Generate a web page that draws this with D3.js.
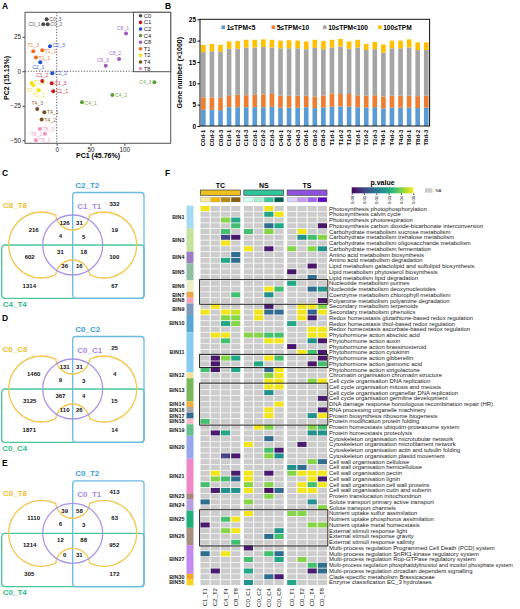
<!DOCTYPE html>
<html><head><meta charset="utf-8">
<script src="https://cdn.jsdelivr.net/npm/d3@7"></script>
<style>body{margin:0;background:#fff}svg{display:block}</style>
</head><body>
<svg id="fig" width="520" height="609"></svg>
<script>
// ================= DATA =================
// Panel A: PCA
const pcaSamples = ["C0_1","C0_2","C0_3","C1_1","C1_2","C1_3","C2_1","C2_2","C2_3","C4_1","C4_2","C4_3","C8_1","C8_2","C8_3","T1_1","T1_2","T1_3","T2_1","T2_2","T2_3","T4_1","T4_2","T4_3","T8_1","T8_2","T8_3"];
const pcaPC1 = [-19.8,-13.3,-14.8,-5,-21.3,-7.4,-24.2,-6.5,-9.9,37.4,82.3,144.4,102.5,92.2,72.5,-30.6,-21.3,-34.6,-26.2,-37,-34.6,-18.3,-22.2,-28.7,-30.6,-17.3,-24.7];
const pcaPC2 = [34,34,37.7,-14.5,-7,-8.7,6.5,-1.4,18.1,-22.5,-17.2,-8,27.3,8.9,3.9,9.9,15.2,14.5,-13.8,-8.5,-10.1,-29.7,-35,-27.3,-50,-45.2,-41.8];
const pcaGroups = ["C0","C1","C2","C4","C8","T1","T2","T4","T8"];
const pcaXTicks = [0,50,100];
const pcaYTicks = [-50,-25,0,25];

// Panel B: stacked bars (x1000 genes)
const barSamples = ["C0d-1","C0d-2","C0d-3","C1d-1","C1d-2","C1d-3","C2d-1","C2d-2","C2d-3","C4d-1","C4d-2","C4d-3","C8d-1","C8d-2","C8d-3","T1d-1","T1d-2","T1d-3","T2d-1","T2d-2","T2d-3","T4d-1","T4d-2","T4d-3","T8d-1","T8d-2","T8d-3"];
const tpm1to5   = [3.8,3.8,3.7,4.4,4.4,4.4,4.4,4.4,4.5,4.3,4.3,4.3,4.4,4.2,4.3,4.5,4.6,4.5,4.4,4.3,4.4,4.1,4.3,4.3,4.3,4.2,4.3];
const tpm5to10  = [2.9,2.9,2.9,2.8,2.9,2.8,2.9,3.0,3.0,2.8,2.8,2.8,2.7,2.7,2.8,3.1,2.9,3.0,2.8,2.8,2.8,2.8,2.8,2.8,2.8,2.8,2.8];
const tpm10to100= [10.6,10.8,10.8,10.9,10.8,11.2,11.1,11.1,10.9,11.1,11.1,11.1,10.9,11.4,10.9,10.8,11.1,10.6,11.2,10.7,10.8,10.3,11.1,11.1,11.3,10.8,10.7];
const tpm100up  = [1.7,1.7,1.6,1.7,1.8,1.8,1.8,1.8,1.8,1.8,1.9,1.8,1.8,1.9,1.9,1.8,1.8,1.7,1.8,1.4,1.7,1.9,1.8,1.8,1.9,1.8,1.8];
const barLegend = ["1≤TPM<5","5≤TPM<10","10≤TPM<100","100≤TPM"];
const barYTicks = [0,5,10,15,20,25];

// Panels C-E: Venn counts, region order:
// B, Y, P, PB, YB, YP, YPB, YG, YPG, YPGB, YGB, PG, PGB, G, GB
const vennRegions = ["B","Y","P","PB","YB","YP","YPB","YG","YPG","YPGB","YGB","PG","PGB","G","GB"];
const vennCSets = ["C8_T8","C1_T1","C2_T2","C4_T4"];
const vennCCounts = [332,216,126,31,19,4,5,602,31,18,100,36,16,1314,67];
const vennDSets = ["C0_C8","C0_C1","C0_C2","C0_C4"];
const vennDCounts = [25,1460,131,31,4,9,3,3125,367,4,15,110,26,1871,14];
const vennESets = ["C0_T8","C0_T1","C0_T2","C0_T4"];
const vennECounts = [413,1110,39,58,63,6,3,1214,12,88,952,0,31,305,172];

// Panel F: heatmap of p-values (null = NA)
const heatCols = ["C1_T1","C2_T2","C4_T4","C8_T8","C0_C1","C0_C2","C0_C4","C0_C8","C0_T1","C0_T2","C0_T4","C0_T8"];
const heatGroups = ["TC","NS","TS"];
const heatRows = [
"Photosynthesis photophosphorylation","Photosynthesis calvin cycle","Photosynthesis photorespiration",
"Photosynthesis carbon dioxide-bicarbonate interconversion","Carbohydrate metabolism sucrose metabolism",
"Carbohydrate metabolism trehalose metabolism","Carbohydrate metabolism oligosaccharide metabolism",
"Carbohydrate metabolism fermentation","Amino acid metabolism biosynthesis","Amino acid metabolism degradation",
"Lipid metabolism galactolipid and sulfolipid biosynthesis","Lipid metabolism phytosterol biosynthesis",
"Lipid metabolism lipid degradation","Nucleotide metabolism purines","Nucleotide metabolism deoxynucleotides",
"Coenzyme metabolism chlorophyll metabolism","Polyamine metabolism polyamine degradation",
"Secondary metabolism terpenoids","Secondary metabolism phenolics",
"Redox homeostasis glutathione-based redox regulation","Redox homeostasis thiol-based redox regulation",
"Redox homeostasis ascorbate-based redox regulation","Phytohormone action abscisic acid",
"Phytohormone action auxin","Phytohormone action brassinosteroid","Phytohormone action cytokinin",
"Phytohormone action gibberellin","Phytohormone action jasmonic acid","Phytohormone action strigolactone",
"Chromatin organisation chromatin structure","Cell cycle organisation DNA replication",
"Cell cycle organisation mitosis and meiosis","Cell cycle organisation organellar DNA replication",
"Cell cycle organisation germline development","DNA damage response homologous recombination repair (HR)",
"RNA processing organelle machinery","Protein biosynthesis ribosome biogenesis",
"Protein modification protein folding","Protein homeostasis ubiquitin-proteasome system",
"Protein homeostasis proteolysis","Cytoskeleton organisation microtubular network",
"Cytoskeleton organisation microfilament network","Cytoskeleton organisation actin and tubulin folding",
"Cytoskeleton organisation plastid movement","Cell wall organisation cellulose",
"Cell wall organisation hemicellulose","Cell wall organisation pectin","Cell wall organisation lignin",
"Cell wall organisation cell wall proteins","Cell wall organisation cutin and suberin",
"Protein translocation mitochondrion","Solute transport primary active transport","Solute transport channels",
"Nutrient uptake sulfur assimilation","Nutrient uptake phosphorus assimilation","Nutrient uptake metal homeostasis",
"External stimuli response light","External stimuli response gravity","External stimuli response salinity",
"Multi-process regulation Programmed Cell Death (PCD) system",
"Multi-process regulation SnRK1-kinase regulatory system",
"Multi-process regulation Rop-GTPase regulatory system",
"Multi-process regulation phosphatidylinositol and inositol phosphate system",
"Multi-process regulation circadian dependent signalling",
"Clade-specific metabolism Brassicaceae","Enzyme classification EC_3 hydrolases"];
const _ = null;
const heatP = [
[0.049,_,_,_,_,_,0.049,_,_,_,_,_],
[_,_,_,_,_,_,0.030,0.049,_,_,_,_],
[_,_,0.041,0.030,_,_,_,_,_,_,_,_],
[_,_,_,0.035,_,_,0.0175,0.030,_,_,_,0.003],
[_,_,0.035,_,0.035,_,0.041,_,_,0.049,_,_],
[_,_,0.010,0.003,_,_,_,_,_,0.025,0.035,0.041],
[_,_,0.049,_,_,_,_,_,_,_,_,_],
[_,_,_,_,0.049,_,0.004,_,0.041,_,0.041,0.025],
[_,_,_,0.0175,_,_,_,_,_,_,_,_],
[_,_,0.030,0.0175,_,_,_,_,_,_,_,_],
[_,_,_,_,_,_,_,_,_,_,0.003,_],
[_,_,_,_,_,_,_,_,0.003,_,_,_],
[_,_,_,_,_,_,_,_,_,_,0.0175,_],
[_,_,_,_,_,_,_,_,0.030,_,_,_],
[_,_,_,_,_,_,0.049,0.035,_,_,0.0175,0.025],
[_,_,_,0.035,_,_,0.025,_,_,_,_,_],
[_,_,_,_,_,_,_,_,_,_,_,0.003],
[_,0.049,_,_,_,_,0.004,_,_,0.049,0.049,0.041],
[0.049,_,0.049,0.046,_,0.049,0.0175,0.0175,_,0.049,0.015,0.049],
[_,_,0.041,0.041,_,0.049,_,_,_,0.049,0.004,_],
[_,_,0.030,0.041,_,_,_,_,0.030,_,_,_],
[_,_,_,_,_,_,_,_,_,_,0.049,0.049],
[_,0.049,0.049,_,0.041,0.041,0.035,0.035,_,_,0.049,0.049],
[_,_,0.035,_,_,_,0.049,0.049,_,_,0.025,0.003],
[_,_,_,_,_,_,_,_,0.003,_,_,_],
[_,_,_,_,_,_,_,_,_,0.049,0.035,0.003],
[_,0.003,0.041,0.030,_,_,0.049,0.035,_,_,_,0.003],
[_,0.003,_,_,_,0.030,_,_,_,_,0.003,0.035],
[0.035,0.003,_,0.030,_,_,0.0175,0.049,_,_,_,_],
[_,_,_,_,_,_,0.041,0.049,_,_,_,_],
[_,_,_,_,_,_,0.049,0.049,_,_,0.041,0.049],
[_,_,_,_,_,_,0.049,0.049,_,_,_,_],
[_,_,_,_,_,_,0.025,_,_,_,_,_],
[_,_,_,_,_,_,_,_,_,_,_,0.004],
[_,_,_,_,_,_,_,0.049,_,_,_,_],
[_,_,_,_,_,_,0.049,_,_,_,_,0.004],
[_,_,_,_,_,_,0.049,_,_,_,0.025,0.049],
[0.035,_,_,_,_,_,_,_,_,_,_,_],
[_,_,_,_,_,0.049,0.041,_,_,_,0.041,0.035],
[_,0.004,0.030,_,_,_,_,_,_,_,0.025,0.025],
[_,_,_,_,_,_,0.0175,_,_,_,_,_],
[_,_,_,_,0.049,_,_,_,_,0.004,_,_],
[_,_,_,_,_,_,0.035,0.004,_,_,_,_],
[_,_,0.010,0.004,_,_,0.041,0.025,_,_,_,_],
[_,_,_,_,_,_,_,_,_,_,0.041,0.0175],
[_,_,_,_,_,_,_,_,0.025,0.0175,_,_],
[_,0.049,_,0.004,0.049,_,0.004,_,0.041,0.049,0.049,0.049],
[_,0.041,0.035,0.0175,0.049,_,_,_,_,_,0.049,0.004],
[0.035,_,_,_,0.041,_,0.041,_,_,0.049,0.035,0.049],
[_,0.004,0.025,0.025,0.049,_,0.002,0.0175,_,0.049,0.049,_],
[_,_,_,_,_,_,0.041,_,_,_,_,_],
[0.0175,_,_,_,0.041,_,_,_,_,_,0.025,_],
[_,_,_,_,_,_,_,_,_,_,_,0.041],
[_,_,_,_,0.049,_,_,_,0.041,0.041,_,_],
[_,_,0.035,0.049,_,_,_,_,_,_,_,_],
[0.004,_,_,_,_,_,_,_,_,_,0.041,0.041],
[_,_,0.041,0.049,_,_,_,0.025,_,_,_,_],
[_,_,_,_,_,_,0.0175,0.035,_,_,_,_],
[_,_,_,0.035,_,_,_,_,_,_,_,_],
[_,_,_,_,0.004,_,_,_,_,_,_,_],
[0.0175,_,0.049,_,_,_,0.035,0.0175,_,_,_,_],
[_,_,_,_,0.035,_,_,0.030,_,0.041,_,_],
[_,_,_,_,_,_,_,_,_,_,0.035,0.0175],
[_,0.004,_,_,0.030,_,_,_,_,_,0.004,0.0175],
[_,_,_,_,_,_,0.0175,0.004,_,_,_,_],
[_,_,_,_,0.025,_,_,_,0.030,_,_,_]];
const binNames = ["BIN1","BIN3","BIN4","BIN5","BIN6","BIN7","BIN8","BIN9","BIN10","BIN11","BIN12","BIN13","BIN14","BIN16","BIN17","BIN18","BIN19","BIN20","BIN21","BIN23","BIN24","BIN25","BIN26","BIN27","BIN30","BIN50"];
const binSizes = [4,4,2,3,2,1,1,2,3,7,1,4,1,1,1,1,2,4,6,1,2,3,3,5,1,1];
const boxedRowRanges = [[13,16],[26,27],[31,37],[53,58]];
const pTicks = [0,0.01,0.02,0.03,0.04,0.05];

// ================= STYLE =================
const FONT = "'Liberation Sans', Arial, Helvetica, sans-serif";
const groupColors = {C0:"#4a4a4a",C1:"#c8191e",C2:"#1f4fcf",C4:"#5f9e35",C8:"#9e5cc0",T1:"#f26a22",T2:"#f3e21a",T4:"#7a4f24",T8:"#f490bd"};
const barColors = ["#5b9bd5","#ed7d31","#a5a5a5","#ffc000"];
const vennCol = {Y:"#f2c650",P:"#a897e6",B:"#6ab9e2",G:"#4cc79a"};
const vennTxt = {Y:"#efbd2f",P:"#a68ae4",B:"#3a9fdc",G:"#2fbf86"};
const binColors = ["#a6d9f2","#c5e29a","#9c7dc6","#8fbf9f","#eaf1c6","#e6a64a","#f3a3b5","#7e9bbd","#5aa6d3","#86ccf2","#f3e39a","#78b85a","#efb03e","#a9a9a9","#2f6c8f","#f7bcc7","#66c08a","#98a8ec","#f088c8","#a8887a","#b8a0e0","#22b07a","#a89080","#c58af0","#f5a623","#f8d21c"];
const groupBarColors = ["#f0c020","#2fc79a","#8f52e0"];
const groupSquareColors = [["#f8e8a0","#f0b800","#b88a10","#87600f"],["#d6fbf3","#a6efd2","#3cc6a0","#006052"],["#d8d0ff","#c898f0","#a064f0","#5f08c8"]];
const NA_COLOR = "#cccccc";

const svg = d3.select("#fig").style("font-family", FONT);

// ================= PANEL LETTERS =================
[["A",2,9],["B",165,9],["C",2,176],["D",2,321],["E",2,466],["F",165,176]].forEach(([t,x,y])=>{
  svg.append("text").attr("x",x).attr("y",y).text(t).attr("font-size",8.5).attr("font-weight","bold");
});

// ================= PANEL A =================
(function(){
  const x = d3.scaleLinear().domain([-46.8,168.5]).range([25,170.7]);
  const y = d3.scaleLinear().domain([-52.2,42.7]).range([143.3,12.3]);
  const g = svg.append("g");
  const ax = g.append("g").attr("transform","translate(0,143.3)").call(d3.axisBottom(x).tickValues(pcaXTicks).tickSize(2.5).tickPadding(1.5));
  const ay = g.append("g").attr("transform","translate(25,0)").call(d3.axisLeft(y).tickValues(pcaYTicks).tickSize(2.5).tickPadding(1.5));
  [ax,ay].forEach(a=>{a.select(".domain").remove(); a.selectAll("text").attr("font-size",6.3).attr("font-family",FONT).attr("fill","#222"); a.selectAll("line").attr("stroke","#444");});
  g.append("line").attr("x1",x(0)).attr("x2",x(0)).attr("y1",12.3).attr("y2",143.3).attr("stroke","#333").attr("stroke-width",0.8).attr("stroke-dasharray","1.2,1.6");
  g.append("line").attr("x1",25).attr("x2",170.7).attr("y1",y(0)).attr("y2",y(0)).attr("stroke","#333").attr("stroke-width",0.8).attr("stroke-dasharray","1.2,1.6");
  g.append("rect").attr("x",25).attr("y",12.3).attr("width",145.7).attr("height",131).attr("fill","none").attr("stroke","#555").attr("stroke-width",1);
  const place = {C0_1:["end",-2.6,2],C0_2:["start",2.6,2],C0_3:["start",2.6,2],C8_1:["middle",-3,-3.6],C8_2:["middle",-4,-4],C8_3:["middle",-3,-4],
    C4_3:["end",-3,2],C4_2:["start",2.6,2.4],C4_1:["start",2.6,2.2],C2_3:["start",2.6,0.8],C2_1:["middle",-2,6.6],C2_2:["start",2.6,2],
    T1_3:["middle",0,-4.2],T1_2:["start",2.4,2.4],T1_1:["start",2.6,2.6],C1_2:["middle",0,-4],C1_3:["start",2.6,2.2],C1_1:["start",2.6,2],
    T2_1:["middle",0,6.6],T2_2:["start",2.4,1.2],T2_3:["middle",-1,6.4],T4_1:["start",2.6,2],T4_2:["start",2.6,2],T4_3:["middle",0,-3.8],
    T8_1:["start",2.6,2],T8_2:["end",-2.6,2],T8_3:["start",2.6,2]};
  pcaSamples.forEach((s,i)=>{
    const grp = s.split("_")[0], px = x(pcaPC1[i]), py = y(pcaPC2[i]);
    g.append("circle").attr("cx",px).attr("cy",py).attr("r",2).attr("fill",groupColors[grp]);
    const p = place[s];
    g.append("text").attr("x",px+p[1]).attr("y",py+p[2]).attr("text-anchor",p[0]).text(s)
      .attr("font-size",5.1).attr("fill",groupColors[grp]).attr("opacity",0.85);
  });
  g.append("rect").attr("x",133.5).attr("y",12.3).attr("width",37.2).attr("height",59.4).attr("fill","#fff").attr("stroke","#555").attr("stroke-width",1);
  pcaGroups.forEach((k,i)=>{
    const ly = 15.8 + i*6.6;
    g.append("circle").attr("cx",140.5).attr("cy",ly).attr("r",1.8).attr("fill",groupColors[k]);
    g.append("text").attr("x",143.8).attr("y",ly+2).text(k).attr("font-size",5.8).attr("fill","#222");
  });
  g.append("text").attr("x",98).attr("y",158).attr("text-anchor","middle").text("PC1 (45.76%)").attr("font-size",7).attr("font-weight","bold");
  g.append("text").attr("transform","translate(9,78) rotate(-90)").attr("text-anchor","middle").text("PC2 (15.13%)").attr("font-size",7).attr("font-weight","bold");
})();

// ================= PANEL B =================
(function(){
  const g = svg.append("g");
  const x = d3.scaleBand().domain(barSamples).range([200,429.6]).paddingInner(0.46).paddingOuter(0.12);
  const y = d3.scaleLinear().domain([0,25]).range([126,19.3]);
  const rows = barSamples.map((s,i)=>({s, k0:tpm1to5[i], k1:tpm5to10[i], k2:tpm10to100[i], k3:tpm100up[i]}));
  const series = d3.stack().keys(["k0","k1","k2","k3"])(rows);
  series.forEach((ser,si)=>{
    g.append("g").selectAll("rect").data(ser).join("rect")
      .attr("x",d=>x(d.data.s)).attr("width",x.bandwidth())
      .attr("y",d=>y(d[1])).attr("height",d=>y(d[0])-y(d[1])).attr("fill",barColors[si]);
  });
  const ay = g.append("g").attr("transform","translate(200,0)").call(d3.axisLeft(y).tickValues(barYTicks).tickSize(2.5).tickPadding(1.5));
  ay.select(".domain").remove();
  ay.selectAll("text").attr("font-size",6.5).attr("font-weight","bold").attr("font-family",FONT);
  const axb = g.append("g").attr("transform","translate(0,126)").call(d3.axisBottom(x).tickSize(0).tickPadding(2));
  axb.select(".domain").remove();
  axb.selectAll("text").attr("font-size",5.9).attr("font-weight","bold").attr("font-family",FONT)
    .attr("transform","rotate(-90)").attr("text-anchor","end").attr("dx","-0.3em").attr("dy","0.35em").attr("y",0).attr("x",-2);
  g.append("rect").attr("x",200).attr("y",19.3).attr("width",229.6).attr("height",106.7).attr("fill","none").attr("stroke","#111").attr("stroke-width",1);
  const lx = [221.5,271.5,323,378];
  barLegend.forEach((t,i)=>{
    g.append("rect").attr("x",lx[i]).attr("y",25.4).attr("width",3.6).attr("height",3.6).attr("fill",barColors[i]);
    g.append("text").attr("x",lx[i]+5.2).attr("y",29.6).text(t).attr("font-size",6.6).attr("font-weight","bold");
  });
  g.append("text").attr("transform","translate(182,72.7) rotate(-90)").attr("text-anchor","middle")
    .text("Gene number (×1000)").attr("font-size",7).attr("font-weight","bold");
})();

// ================= PANELS C-E: VENN =================
function drawVenn(cx, cy, sets, counts){
  const g = svg.append("g").attr("transform",`translate(${cx},${cy})`);
  g.append("rect").attr("x",-71).attr("y",0).attr("width",142.3).attr("height",53.3).attr("rx",3)
    .attr("fill","none").attr("stroke",vennCol.G).attr("stroke-width",1.3);
  g.append("rect").attr("x",0).attr("y",-52.5).attr("width",71.3).attr("height",105.8).attr("rx",3)
    .attr("fill","none").attr("stroke",vennCol.B).attr("stroke-width",1.3);
  const r = 33, d = 31, phi = 65*Math.PI/180;
  const ax = -d + r*Math.cos(phi), ay = -r*Math.sin(phi);
  const dip = 15;
  const hc = -ax, sag = -ay - dip;
  const R = (hc*hc + sag*sag)/(2*sag);
  const path = `M${ax},${ay} A${R},${R} 0 0 0 ${-ax},${ay} A${r},${r} 0 1 1 ${-ax},${-ay} A${R},${R} 0 0 0 ${ax},${-ay} A${r},${r} 0 1 1 ${ax},${ay} Z`;
  g.append("path").attr("d",path).attr("fill","none").attr("stroke",vennCol.Y).attr("stroke-width",1.3);
  g.append("circle").attr("cx",0).attr("cy",0).attr("r",30).attr("fill","none").attr("stroke",vennCol.P).attr("stroke-width",1.3);
  const lbl = [[sets[0],"Y","middle",-57.7,-37],[sets[1],"P","start",4.5,-36],[sets[2],"B","start",2.5,-57],[sets[3],"G","middle",-58,61.5]];
  lbl.forEach(([t,k,anc,x,y])=>{
    g.append("text").attr("x",x).attr("y",y).attr("text-anchor",anc).text(t)
      .attr("font-size",8).attr("font-weight","bold").attr("fill",vennTxt[k]);
  });
  const pos = {B:[41.8,-41],Y:[-39,-15],P:[-8,-22],PB:[6.7,-22],YB:[42,-15.5],YP:[-12.3,-9],YPB:[11,-8.3],
    YG:[-43,12],YPG:[-12.3,7],YPGB:[11,7],YGB:[41.6,11.5],PG:[-8,21.2],PGB:[6.6,21.2],G:[-43.4,40.6],GB:[41.8,40.6]};
  vennRegions.forEach((k,i)=>{
    g.append("text").attr("x",pos[k][0]).attr("y",pos[k][1]+2.1).attr("text-anchor","middle").text(counts[i])
      .attr("font-size",6).attr("font-weight","bold").attr("fill","#111");
  });
}
drawVenn(72.7,245,vennCSets,vennCCounts);
drawVenn(72.7,389,vennDSets,vennDCounts);
drawVenn(72.7,533.3,vennESets,vennECounts);

// ================= PANEL F: HEATMAP =================
(function(){
  const g = svg.append("g");
  const gx = d3.scaleBand().domain(heatGroups).range([200.5,327]).paddingInner(0.08);
  const cx = d3.scaleBand().domain([0,1,2,3]).range([0,gx.bandwidth()]).paddingInner(0.1);
  const colX = j => gx(heatGroups[Math.floor(j/4)]) + cx(j%4);
  const y = d3.scaleBand().domain(d3.range(heatRows.length)).range([206,585]).paddingInner(0.13);
  const color = d3.scaleSequential(d3.interpolateViridis).domain([0,0.05]);
  heatP.forEach((row,i)=>{
    row.forEach((v,j)=>{
      g.append("rect").attr("x",colX(j)).attr("y",y(i)).attr("width",cx.bandwidth()).attr("height",y.bandwidth())
        .attr("fill", v==null ? NA_COLOR : color(v));
    });
    const fs = 5.9;
    const t = g.append("text").attr("x",329).attr("y",y(i)+y.bandwidth()/2+2).text(heatRows[i])
      .attr("font-size",fs).attr("fill","#222");
    const maxW = 184, w = t.node().getComputedTextLength();
    if (w > maxW) t.attr("font-size", (fs*maxW/w).toFixed(2));
  });
  heatCols.forEach((c,j)=>{
    const xx = colX(j)+cx.bandwidth()/2;
    g.append("text").attr("transform",`translate(${xx+2},588) rotate(-90)`).attr("text-anchor","end").text(c)
      .attr("font-size",6.1).attr("fill","#222");
  });
  heatGroups.forEach((k,gi)=>{
    const x0 = gx(k);
    g.append("text").attr("x",x0+gx.bandwidth()/2).attr("y",187.6).attr("text-anchor","middle").text(k)
      .attr("font-size",7).attr("font-weight","bold");
    g.append("rect").attr("x",x0).attr("y",190).attr("width",gx.bandwidth()).attr("height",5.3)
      .attr("fill",groupBarColors[gi]).attr("stroke","#444").attr("stroke-width",0.7);
    for(let q=0;q<4;q++){
      g.append("rect").attr("x",x0+cx(q)).attr("y",197.3).attr("width",cx.bandwidth()).attr("height",4.7)
        .attr("fill",groupSquareColors[gi][q]).attr("stroke","#999").attr("stroke-width",0.3);
    }
  });
  boxedRowRanges.forEach(([a,b])=>{
    g.append("rect").attr("x",199.6).attr("y",y(a)-1.2).attr("width",128.2).attr("height",y(b)+y.bandwidth()+1.2-(y(a)-1.2))
      .attr("fill","none").attr("stroke","#222").attr("stroke-width",1);
  });
  let start = 0;
  binNames.forEach((b,k)=>{
    const n = binSizes[k];
    const y0 = y(start) - y.step()*y.paddingInner()/2, y1 = y(start+n-1) + y.bandwidth() + y.step()*y.paddingInner()/2;
    g.append("rect").attr("x",186.5).attr("y",y0).attr("width",7).attr("height",y1-y0).attr("fill",binColors[k]);
    g.append("text").attr("x",184.5).attr("y",(y0+y1)/2+1.9).attr("text-anchor","end").text(b)
      .attr("font-size",5.4).attr("font-weight","bold").attr("fill","#222");
    start += n;
  });
  const lx = d3.scaleLinear().domain([0,0.05]).range([351.7,413.3]);
  const defs = svg.append("defs");
  const grad = defs.append("linearGradient").attr("id","vir").attr("x1","0%").attr("x2","100%");
  d3.range(0,1.0001,0.1).forEach(t=>grad.append("stop").attr("offset",(t*100)+"%").attr("stop-color",d3.interpolateViridis(t)));
  g.append("text").attr("x",382.5).attr("y",185).attr("text-anchor","middle").text("p.value").attr("font-size",7).attr("font-weight","bold");
  g.append("rect").attr("x",351.7).attr("y",187.3).attr("width",61.6).attr("height",6).attr("fill","url(#vir)");
  const al = g.append("g").attr("transform","translate(0,193.3)").call(d3.axisBottom(lx).tickValues(pTicks).tickSize(1.5).tickFormat(d3.format(".2f")));
  al.select(".domain").remove();
  al.selectAll("line").attr("stroke","#333");
  al.selectAll("text").attr("font-size",4.2).attr("font-family",FONT).attr("transform","rotate(-90)")
    .attr("text-anchor","end").attr("x",-2.5).attr("y",0).attr("dy","0.35em");
  g.append("rect").attr("x",425).attr("y",188.3).attr("width",7.5).attr("height",4.4).attr("fill",NA_COLOR);
  g.append("text").attr("x",435.5).attr("y",192).text("NA").attr("font-size",4.2).attr("fill","#222");
})();
</script>
</body></html>
